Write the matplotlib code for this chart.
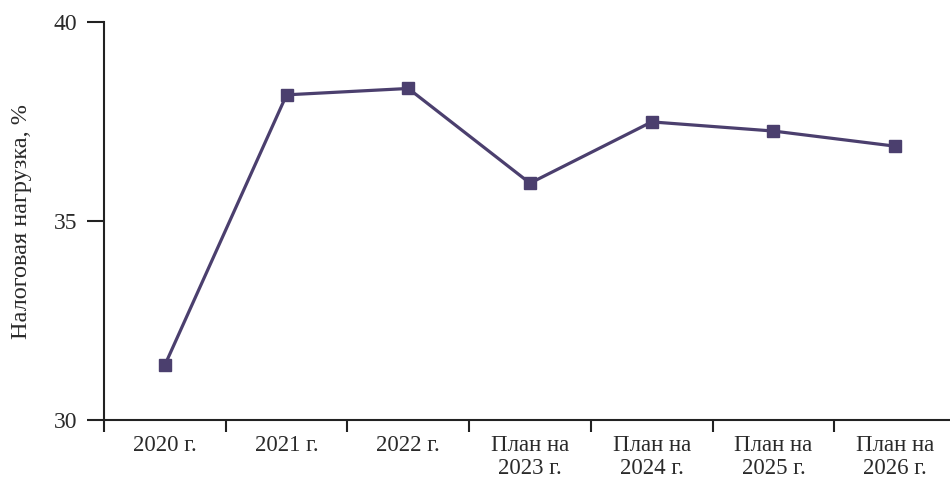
import matplotlib
matplotlib.use("Agg")
import matplotlib.pyplot as plt

categories = ["2020 г.", "2021 г.", "2022 г.", "План на\n2023 г.", "План на\n2024 г.", "План на\n2025 г.", "План на\n2026 г."]
values = [31.38, 38.17, 38.33, 35.95, 37.49, 37.26, 36.88]
y_ticks = [30, 35, 40]
y_label = "Налоговая нагрузка, %"

plt.rcParams['font.family'] = ['Liberation Serif', 'DejaVu Serif']
color = "#4B3F6E"
text_color = "#2a2a2a"

fig = plt.figure(figsize=(9.5, 4.9), dpi=100)
ax = fig.add_axes([104/950, 70/490, 852/950, 398/490])

x = list(range(len(categories)))
ax.plot(x, values, color=color, lw=2.3, marker='s', markersize=8.5, clip_on=False, zorder=3)

ax.set_xlim(-0.5, len(categories) - 0.5)
ax.set_ylim(30, 40)
ax.set_yticks(y_ticks)
ax.set_yticklabels([str(t) for t in y_ticks])
ax.set_xticks([i - 0.5 for i in range(len(categories) + 1)])
ax.set_xticklabels([])
ax.set_xticks(x, minor=True)
ax.set_xticklabels(categories, minor=True)

for s in ['top', 'right']:
    ax.spines[s].set_visible(False)
for s in ['left', 'bottom']:
    ax.spines[s].set_linewidth(1.5)
    ax.spines[s].set_color('#222222')

ax.tick_params(axis='y', which='major', direction='out', length=12, width=1.5, color='#222222',
               labelsize=17, labelcolor=text_color, pad=7)
ax.tick_params(axis='x', which='major', direction='out', length=8.5, width=1.5, color='#222222')
ax.tick_params(axis='x', which='minor', length=0, labelsize=16.5, labelcolor=text_color, pad=11)
for lab in ax.get_xticklabels(minor=True):
    lab.set_linespacing(1.1)

ax.set_ylabel(y_label, fontsize=17.5, color=text_color, labelpad=16)

fig.savefig("out.png", dpi=100)
